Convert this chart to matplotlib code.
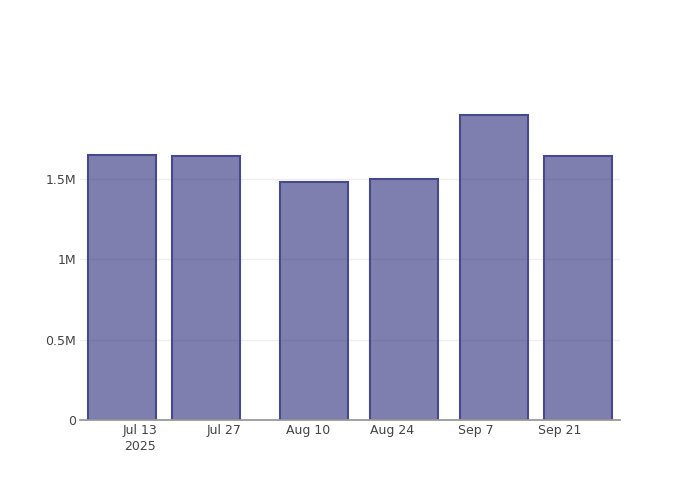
import datetime as dt
import matplotlib
matplotlib.use("Agg")
import matplotlib.pyplot as plt
import matplotlib.dates as mdates

# data
dates = ["2025-07-10", "2025-07-24", "2025-08-11", "2025-08-26", "2025-09-10", "2025-09-24"]
values = [1652000, 1644000, 1481000, 1504000, 1898000, 1645000]

tick_dates = ["2025-07-13", "2025-07-27", "2025-08-10", "2025-08-24", "2025-09-07", "2025-09-21"]
tick_labels = ["Jul 13\n2025", "Jul 27", "Aug 10", "Aug 24", "Sep 7", "Sep 21"]
y_ticks = [0, 500000, 1000000, 1500000]
y_labels = ["0", "0.5M", "1M", "1.5M"]

plt.rcParams['font.family'] = ['DejaVu Sans']

x = [mdates.date2num(dt.datetime.fromisoformat(d)) for d in dates]
xt = [mdates.date2num(dt.datetime.fromisoformat(d)) for d in tick_dates]

fig = plt.figure(figsize=(7, 5), dpi=100)
ax = fig.add_axes([80 / 700, 80 / 500, 540 / 700, 320 / 500])

ax.bar(x, values, width=11.2, color=(42 / 255, 42 / 255, 122 / 255, 0.6),
       edgecolor="#48488c", linewidth=1.5, zorder=3)

ax.set_xlim(mdates.date2num(dt.datetime(2025, 7, 3)), mdates.date2num(dt.datetime(2025, 10, 1)))
ax.set_ylim(0, 1993000)

ax.set_xticks(xt)
ax.set_xticklabels(tick_labels, fontsize=9, color="#444444", linespacing=1.25)
ax.set_yticks(y_ticks)
ax.set_yticklabels(y_labels, fontsize=9, color="#444444")
ax.tick_params(axis="both", length=0)
ax.tick_params(axis="x", pad=3)
ax.tick_params(axis="y", pad=3)

ax.grid(axis="y", color="#eeeeee", linewidth=1, zorder=0)
for s in ["top", "right", "left"]:
    ax.spines[s].set_visible(False)
ax.spines["bottom"].set_color("#999999")
ax.spines["bottom"].set_linewidth(1.3)
ax.spines["bottom"].set_zorder(4)

fig.savefig("out.png", dpi=100)
